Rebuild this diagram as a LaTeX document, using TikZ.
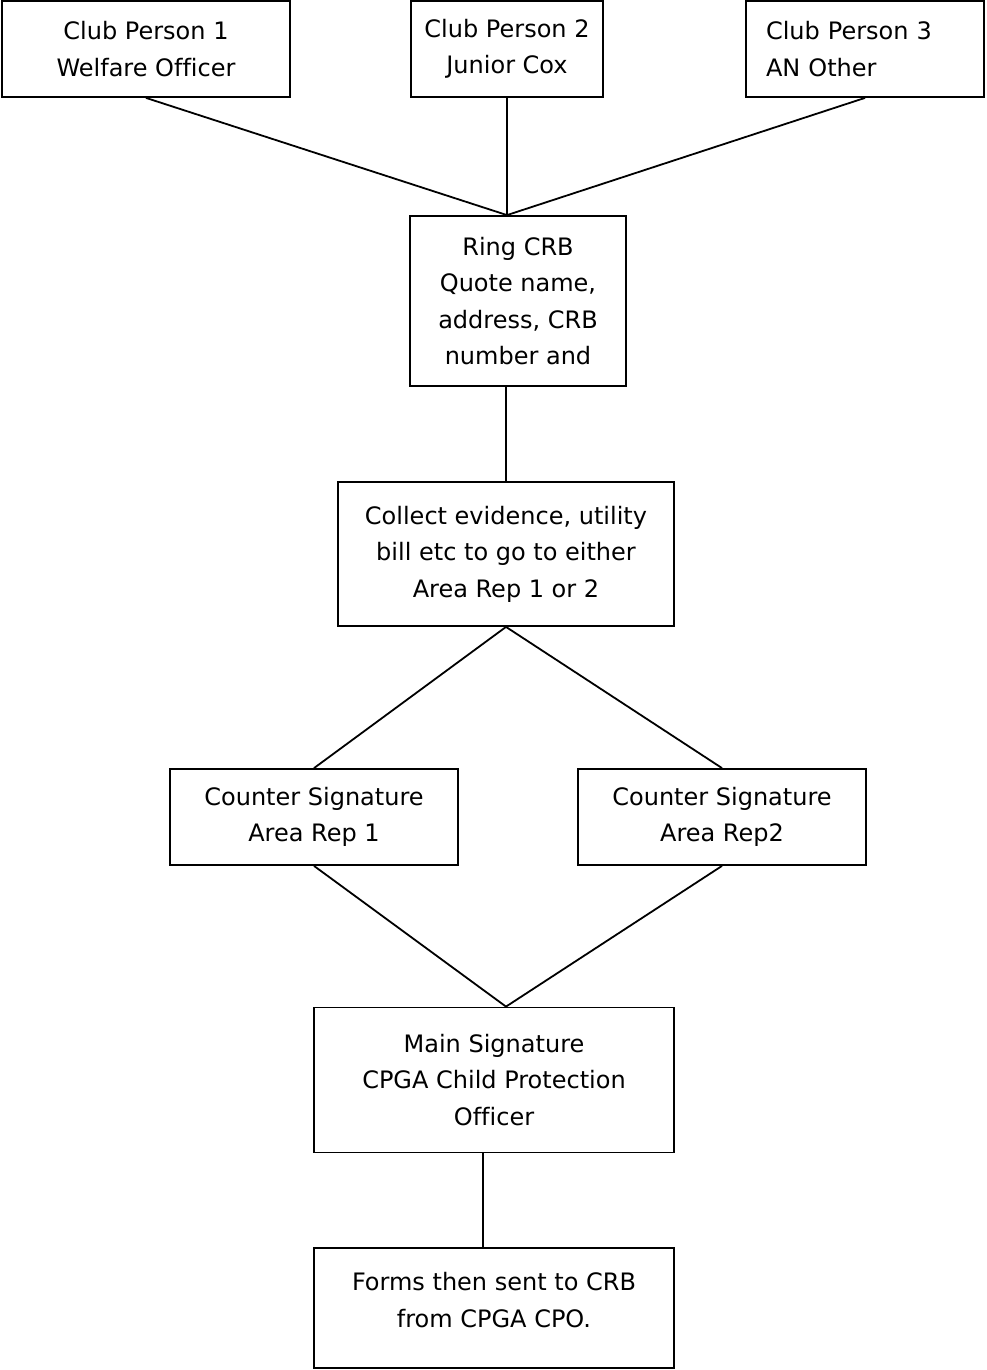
\documentclass[tikz,border=0pt]{standalone}
\usepackage{fontspec}
\setmainfont[Ligatures=NoCommon]{DejaVu Sans}
\tikzset{
    stepbox/.style={draw, line width=1.8pt, align=center, inner sep=0pt,
        font=\fontsize{24}{36.5}\selectfont},
    link/.style={line width=1.8pt}
}
\begin{document}
\begin{tikzpicture}[x=1pt, y=-1pt]
        \useasboundingbox (0, 0) rectangle (986, 1370);
        \node[stepbox, minimum width=288, minimum height=96] (person1) at (146, 49) {Club Person 1\\Welfare Officer};
        \node[stepbox, minimum width=192, minimum height=96] (person2) at (507, 49) {Club Person 2\\Junior Cox};
        \node[stepbox, minimum width=238, minimum height=96, text width=198, align=left] (person3) at (865, 49) {Club Person 3\\AN Other};
        \node[stepbox, minimum width=216, minimum height=170] (ring) at (518, 301) {Ring CRB\\Quote name,\\address, CRB\\number and};
        \node[stepbox, minimum width=336, minimum height=144] (collect) at (506, 554) {Collect evidence, utility\\bill etc to go to either\\Area Rep 1 or 2};
        \node[stepbox, minimum width=288, minimum height=96] (rep1) at (314, 817) {Counter Signature\\Area Rep 1};
        \node[stepbox, minimum width=288, minimum height=96] (rep2) at (722, 817) {Counter Signature\\Area Rep2};
        \node[stepbox, minimum width=360, minimum height=145] (main) at (494, 1080) {Main Signature\\CPGA Child Protection\\Officer};
        \node[stepbox, minimum width=360, minimum height=120, text depth=16] (forms) at (494, 1308) {Forms then sent to CRB\\from CPGA CPO.};
        \draw[link] (person1.south) -- (ring.north -| person2.south);
        \draw[link] (person2.south) -- (ring.north -| person2.south);
        \draw[link] (person3.south) -- (ring.north -| person2.south);
        \draw[link] (ring.south -| collect.north) -- (collect.north);
        \draw[link] (collect.south) -- (rep1.north);
        \draw[link] (collect.south) -- (rep2.north);
        \draw[link] (rep1.south) -- (main.north -| collect.south);
        \draw[link] (rep2.south) -- (main.north -| collect.south);
        \draw[link] ([xshift=-11pt]main.south) -- ([xshift=-11pt]forms.north);
    \end{tikzpicture}
\end{document}
